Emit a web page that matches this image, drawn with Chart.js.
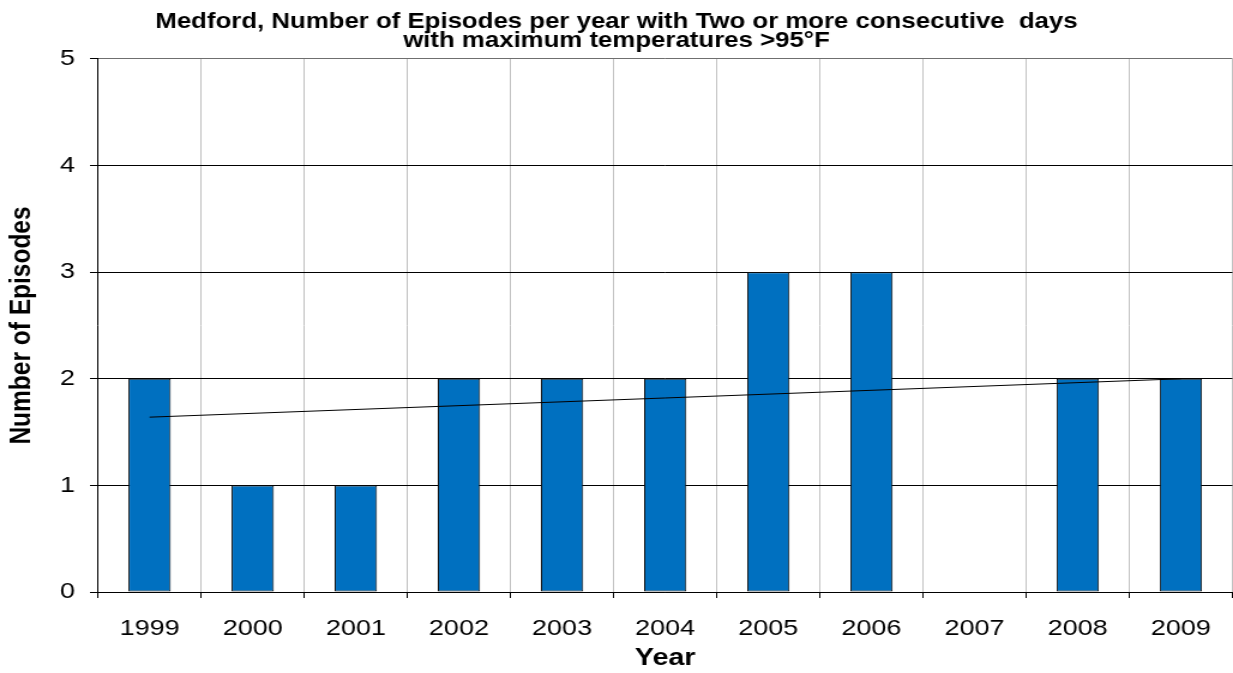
<!DOCTYPE html>
<html>
<head>
<meta charset="utf-8">
<title>Medford heat episodes</title>
<script src="https://cdn.jsdelivr.net/npm/chart.js@4/dist/chart.umd.min.js"></script>
<style>
  html, body { margin: 0; padding: 0; background: #fff; overflow: hidden; }
  /* chart is laid out narrow and widened, like the original exported sheet */
  #wrap { width: 1028px; height: 673px; transform: scaleX(1.19942); transform-origin: 0 0; }
</style>
</head>
<body>
<div id="wrap"><canvas id="episodes"></canvas></div>
<script>
// episodes per year with 2+ consecutive days above 95°F
var years = ['1999', '2000', '2001', '2002', '2003', '2004', '2005', '2006', '2007', '2008', '2009'];
var episodes = [2, 1, 1, 2, 2, 2, 3, 3, 0, 2, 2];

// linear trend, only the two end points are drawn
var trendStart = 1.64;
var trendEnd = 2.0;
var trend = years.map(function (y, i) {
    if (i === 0) return trendStart;
    if (i === years.length - 1) return trendEnd;
    return null;
});

var yTicks = [0, 1, 2, 3, 4, 5];

var fontFamily = '"Liberation Sans", Arial, sans-serif';

var ctx = document.getElementById('episodes').getContext('2d');

var chart = new Chart(ctx, {
    type: 'bar',
    data: {
        labels: years,
        datasets: [{
            type: 'line',
            data: trend,
            borderColor: '#000',
            borderWidth: 1,
            pointRadius: 0,
            spanGaps: true,
            fill: false,
            order: 1
        }, {
            type: 'bar',
            data: episodes,
            backgroundColor: '#0070C0',
            borderColor: '#111',
            borderWidth: 1,
            borderSkipped: false,
            barPercentage: 0.41,
            categoryPercentage: 1,
            order: 2
        }]
    },
    options: {
        responsive: true,
        maintainAspectRatio: false,
        animation: false,
        layout: { padding: { left: 0, right: 0, top: 0, bottom: 0 } },
        plugins: {
            legend: { display: false },
            tooltip: { enabled: false },
            title: {
                display: true,
                text: ['Medford, Number of Episodes per year with Two or more consecutive  days',
                       'with maximum temperatures >95°F'],
                color: '#000',
                font: { family: fontFamily, size: 21.5, weight: 'bold', lineHeight: 0.86 },
                padding: { top: 13, bottom: 9 }
            }
        },
        scales: {
            x: {
                grid: {
                    offset: true,
                    color: '#c0c0c0',
                    tickColor: '#000',
                    tickLength: 6,
                    lineWidth: 1
                },
                border: { color: '#000', width: 1 },
                ticks: {
                    color: '#000',
                    padding: 17,
                    font: { family: fontFamily, size: 22.5 }
                },
                title: {
                    display: true,
                    text: 'Year',
                    color: '#000',
                    font: { family: fontFamily, size: 24, weight: 'bold', lineHeight: 1.2 },
                    padding: { top: 0, bottom: 0 }
                },
                afterFit: function (scale) { scale.height = 81; }
            },
            y: {
                min: 0,
                max: 5,
                afterBuildTicks: function (scale) {
                    scale.ticks = yTicks.map(function (v) { return { value: v }; });
                },
                grid: {
                    color: function (c) { return c.tick && c.tick.value === 5 ? '#6f6f6f' : '#000'; },
                    tickColor: '#000',
                    tickLength: 6.7,
                    lineWidth: 1
                },
                border: { color: '#000', width: 1 },
                ticks: {
                    color: '#000',
                    padding: 12.5,
                    font: { family: fontFamily, size: 22.5 }
                },
                title: {
                    display: true,
                    text: 'Number of Episodes',
                    color: '#000',
                    font: { family: fontFamily, size: 24.5, weight: 'bold', lineHeight: 1 },
                    padding: { top: 6, bottom: 0 }
                },
                afterFit: function (scale) { scale.width = 81.7; }
            }
        }
    }
});
</script>
</body>
</html>
